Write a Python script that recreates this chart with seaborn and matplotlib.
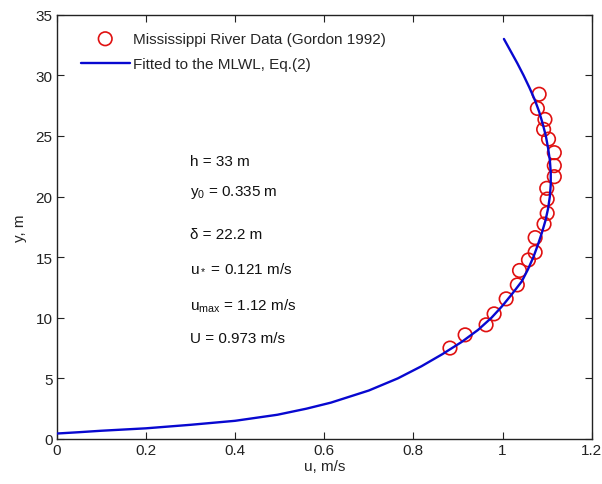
import matplotlib
matplotlib.use("Agg")
import matplotlib.pyplot as plt
import seaborn as sns
import pandas as pd
from matplotlib.ticker import FuncFormatter

# Measured velocity profile (Mississippi River, Gordon 1992)
obs_u = [1.082, 1.078, 1.095, 1.092, 1.103, 1.116, 1.116, 1.116, 1.099, 1.100, 1.100,
         1.093, 1.073, 1.073, 1.058, 1.038, 1.033, 1.008, 0.981, 0.963, 0.916, 0.882]
obs_y = [28.44, 27.27, 26.36, 25.54, 24.74, 23.62, 22.55, 21.64, 20.68, 19.79, 18.62,
         17.73, 16.61, 15.40, 14.77, 13.90, 12.71, 11.56, 10.32, 9.42, 8.59, 7.50]

# Fitted MLWL profile
fit_u = [0.0, 0.05, 0.1, 0.2, 0.3, 0.4, 0.495, 0.56, 0.615, 0.70, 0.765, 0.818, 0.865,
         0.908, 0.945, 0.975, 1.000, 1.022, 1.043, 1.057, 1.069, 1.079, 1.088, 1.096,
         1.102, 1.106, 1.108, 1.108, 1.106, 1.102, 1.097, 1.090, 1.082, 1.072, 1.060,
         1.047, 1.033, 1.018, 1.003]
fit_y = [0.45, 0.56, 0.68, 0.88, 1.17, 1.5, 2.0, 2.5, 3.0, 4.0, 5.0, 6.0, 7.0,
         8.0, 9.0, 10.0, 11.0, 12.0, 13.0, 14.0, 15.0, 16.0, 17.0, 18.0,
         19.0, 20.0, 21.0, 22.0, 23.0, 24.0, 25.0, 26.0, 27.0, 28.0, 29.0,
         30.0, 31.0, 32.0, 33.0]

params = ["h = 33 m", "y$_0$ = 0.335 m", "\u03b4 = 22.2 m", "u$_*$ = 0.121 m/s",
          "u$_{max}$ = 1.12 m/s", "U = 0.973 m/s"]
param_y = [22.9, 20.4, 16.9, 14.2, 11.0, 8.3]

xticks = [0, 0.2, 0.4, 0.6, 0.8, 1, 1.2]
yticks = [0, 5, 10, 15, 20, 25, 30, 35]

sns.set_style("ticks")
plt.rcParams["font.family"] = ["Liberation Sans", "DejaVu Sans"]
plt.rcParams["mathtext.fontset"] = "custom"
plt.rcParams["mathtext.rm"] = "Liberation Sans"
plt.rcParams["mathtext.it"] = "Liberation Sans"

obs = pd.DataFrame({"u": obs_u, "y": obs_y})
fit = pd.DataFrame({"u": fit_u, "y": fit_y})

fig = plt.figure(figsize=(6.02, 4.85), dpi=100)
ax = fig.add_axes([0.0942, 0.0928, 0.8888, 0.8748])

sns.scatterplot(data=obs, x="u", y="y", ax=ax, marker="o", s=95,
                facecolor="none", edgecolor="#e01010", linewidth=1.2,
                label="Mississippi River Data (Gordon 1992)", zorder=2)
sns.lineplot(data=fit, x="u", y="y", ax=ax, sort=False, estimator=None,
             color="#0808d0", linewidth=1.7,
             label="Fitted to the MLWL, Eq.(2)", zorder=3)

for txt, yy in zip(params, param_y):
    ax.text(0.299, yy, txt, fontsize=11, va="center", ha="left", color="#111111")

ax.set_xlim(0, 1.2)
ax.set_ylim(0, 35)
ax.set_xticks(xticks)
ax.set_yticks(yticks)
ax.xaxis.set_major_formatter(FuncFormatter(lambda v, p: f"{v:g}"))
ax.tick_params(direction="in", length=5, top=True, right=True,
               labelsize=11, colors="#222222", width=0.8, pad=3)
for s in ax.spines.values():
    s.set_linewidth(1.0)
    s.set_color("#222222")
ax.set_xlabel("u, m/s", fontsize=11, labelpad=1)
ax.set_ylabel("y, m", fontsize=11, labelpad=6)

ax.legend(loc="upper left", frameon=False, fontsize=11, handlelength=3.2,
          handletextpad=0.25, borderaxespad=0.3, labelspacing=0.75,
          bbox_to_anchor=(0.025, 0.985))

fig.savefig("out.png", dpi=100)
